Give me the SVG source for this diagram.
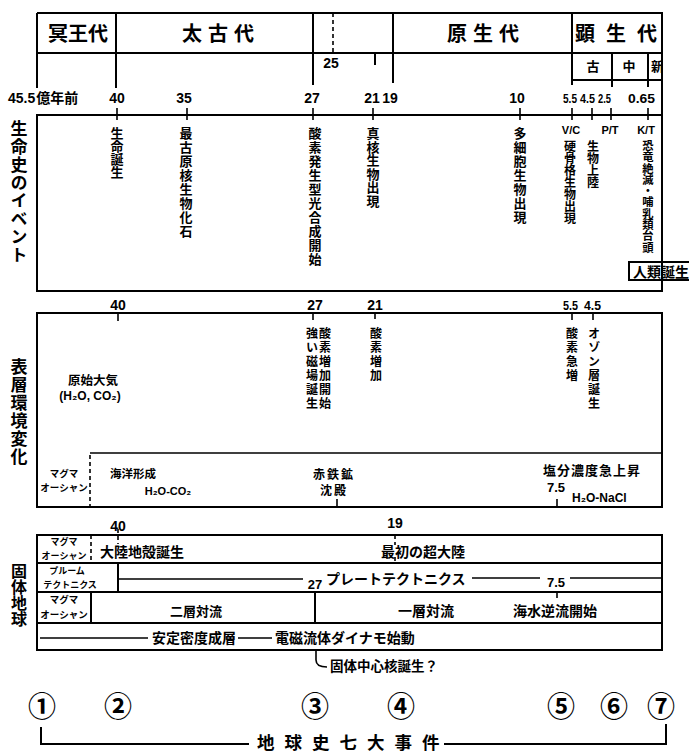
<svg xmlns="http://www.w3.org/2000/svg" width="689" height="753" viewBox="0 0 689 753">
<defs>
<style>
.ln{stroke:#000;stroke-width:2;fill:none}
.tn{stroke:#000;stroke-width:1.6;fill:none}
.ds{stroke:#000;stroke-width:1.6;stroke-dasharray:4 3;fill:none}
.j{font-family:"Noto Sans CJK JP","Noto Sans",sans-serif;font-weight:700;fill:#000}
.n{font-family:"Liberation Sans","DejaVu Sans",Arial,sans-serif;font-weight:700;fill:#000}
.v{writing-mode:vertical-rl}
.m{text-anchor:middle}
.c{font-family:"Noto Sans CJK JP",sans-serif;font-weight:700;fill:#000;font-size:28px;text-anchor:middle}
</style>
<clipPath id="clipNew"><rect x="572" y="53" width="89" height="27"/></clipPath>
</defs>
<rect width="689" height="753" fill="#fff"/>

<g id="era-header">
<path class="ln" d="M37,13 H662 V115 M37,13 V88 M37,53 H662 M116,13 V88 M313,13 V85 M393,13 V83 M572,13 V85 M572,80 H662 M612,53 V87 M648,53 V87 M375,53 V65"/>
<path class="ds" d="M333,13 V52"/>
<text class="j" x="48" y="41" font-size="20">冥王代</text>
<text class="j" x="182" y="41" font-size="20" letter-spacing="6">太古代</text>
<text class="j" x="447" y="41" font-size="20" letter-spacing="6">原生代</text>
<text class="j" x="575" y="41" font-size="20" letter-spacing="11">顕生代</text>
<text class="j m" x="593" y="71" font-size="13">古</text>
<text class="j m" x="629" y="71" font-size="13">中</text>
<text class="j" x="651" y="71" font-size="13" clip-path="url(#clipNew)">新</text>
<text class="n m" x="331" y="68" font-size="14">25</text>
</g>

<g id="time-axis">
<text class="n" x="8" y="103" font-size="14">45.5<tspan font-family="Noto Sans CJK JP, sans-serif" dx="1">億年前</tspan></text>
<text class="n m" x="117" y="103" font-size="14">40</text>
<text class="n m" x="184" y="103" font-size="14">35</text>
<text class="n m" x="312" y="103" font-size="14">27</text>
<text class="n m" x="372" y="103" font-size="14">21</text>
<text class="n m" x="390" y="103" font-size="14">19</text>
<text class="n m" x="517" y="103" font-size="14">10</text>
<text class="n" x="563" y="103" font-size="13" textLength="14" lengthAdjust="spacingAndGlyphs">5.5</text>
<text class="n" x="580" y="103" font-size="13" textLength="15" lengthAdjust="spacingAndGlyphs">4.5</text>
<text class="n" x="598" y="103" font-size="13" textLength="13" lengthAdjust="spacingAndGlyphs">2.5</text>
<text class="n" x="628" y="103" font-size="13" textLength="27" lengthAdjust="spacingAndGlyphs">0.65</text>
</g>

<g id="life-events">
<rect class="ln" x="37" y="115" width="625" height="176"/>
<path class="tn" d="M117,108 V120 M187,108 V120 M313,108 V120 M373,108 V120 M520,108 V120 M572,108 V120 M592,108 V120 M611,108 V120 M648,108 V120"/>
<text class="j v" x="19" y="120" font-size="17" letter-spacing="1">生命史のイベント</text>
<text class="j v" x="117" y="127" font-size="13">生命誕生</text>
<text class="j v" x="186" y="127" font-size="13" letter-spacing="1">最古原核生物化石</text>
<text class="j v" x="315" y="127" font-size="13" letter-spacing="1">酸素発生型光合成開始</text>
<text class="j v" x="373" y="127" font-size="13" letter-spacing="0.5">真核生物出現</text>
<text class="j v" x="520" y="127" font-size="13" letter-spacing="1">多細胞生物出現</text>
<text class="n m" x="571" y="134" font-size="11">V/C</text>
<text class="j v" x="570" y="140" font-size="12">硬骨格生物出現</text>
<text class="j v" x="593" y="140" font-size="12">生物上陸</text>
<text class="n m" x="610" y="134" font-size="11">P/T</text>
<text class="n m" x="646" y="134" font-size="11">K/T</text>
<text class="j v" x="648" y="140" font-size="11.3">恐竜絶滅・哺乳類台頭</text>
<g id="human">
<rect class="ln" x="629" y="262" width="62" height="18" fill="#fff"/>
<text class="j" x="633" y="277" font-size="14">人類誕生</text>
</g>
</g>

<g id="surface-environment">
<text class="n m" x="118" y="310" font-size="14">40</text>
<text class="n m" x="315" y="310" font-size="14">27</text>
<text class="n m" x="375" y="310" font-size="14">21</text>
<text class="n" x="563" y="310" font-size="13" textLength="15" lengthAdjust="spacingAndGlyphs">5.5</text>
<text class="n" x="584" y="310" font-size="13" textLength="17" lengthAdjust="spacingAndGlyphs">4.5</text>
<rect class="ln" x="37" y="313" width="625" height="194"/>
<path class="tn" d="M118,313 V321 M313,313 V320 M375,312 V319 M572,312 V320 M593,312 V320 M90,453 H662 M337,499 V507 M557,499 V507"/>
<path class="ds" d="M90,455 V507"/>
<text class="j v" x="19" y="358" font-size="17" letter-spacing="1">表層環境変化</text>
<text class="j v" x="312" y="327" font-size="12" letter-spacing="2">強い磁場誕生</text>
<text class="j v" x="325" y="327" font-size="12" letter-spacing="2">酸素増加開始</text>
<text class="j v" x="376" y="327" font-size="12" letter-spacing="2">酸素増加</text>
<text class="j v" x="572" y="327" font-size="12" letter-spacing="2">酸素急増</text>
<text class="j v" x="594" y="327" font-size="12" letter-spacing="2">オゾン層誕生</text>
<text class="j m" x="93" y="385" font-size="12.5">原始大気</text>
<text class="n m" x="90" y="400" font-size="12">(H₂O, CO₂)</text>
<text class="j m" x="64" y="477" font-size="9.5">マグマ</text>
<text class="j m" x="64" y="491" font-size="9.5">オーシャン</text>
<text class="j" x="110" y="478" font-size="11.5">海洋形成</text>
<text class="n m" x="168" y="495" font-size="11">H₂O-CO₂</text>
<text class="j m" x="334" y="479" font-size="12" letter-spacing="2">赤鉄鉱</text>
<text class="j m" x="334" y="495" font-size="12" letter-spacing="2">沈殿</text>
<text class="j m" x="592" y="475" font-size="13" letter-spacing="1">塩分濃度急上昇</text>
<text class="n m" x="556" y="492" font-size="13">7.5</text>
<text class="n" x="572" y="502" font-size="12">H₂O-NaCl</text>
</g>

<g id="solid-earth">
<text class="n m" x="118" y="531" font-size="14">40</text>
<text class="n m" x="395" y="528" font-size="14">19</text>
<rect class="ln" x="37" y="535" width="625" height="115"/>
<path class="ln" d="M37,563 H662 M37,592 H662 M37,623 H662 M118,563 V592 M91,592 V623 M315,592 V623"/>
<path class="ds" d="M91,535 V563 M118,529 V544 M395,535 V545 M395,557 V563"/>
<path class="tn" d="M119,579 H303 M472,578 H540 M570,578 H662 M557,592 V598 M40,638 H148 M238,638 H272"/>
<text class="j v" x="19" y="563" font-size="16">固体地球</text>
<text class="j m" x="64" y="545" font-size="9">マグマ</text>
<text class="j m" x="64" y="559" font-size="9">オーシャン</text>
<text class="j" x="100" y="557" font-size="14">大陸地殻誕生</text>
<text class="j" x="381" y="557" font-size="14">最初の超大陸</text>
<text class="j m" x="67" y="574" font-size="9">プルーム</text>
<text class="j m" x="70" y="588" font-size="9">テクトニクス</text>
<text class="n m" x="315" y="589" font-size="13">27</text>
<text class="j" x="326" y="584" font-size="14">プレートテクトニクス</text>
<text class="n m" x="556" y="587" font-size="13">7.5</text>
<text class="j m" x="64" y="603" font-size="9.5">マグマ</text>
<text class="j m" x="64" y="618" font-size="9.5">オーシャン</text>
<text class="j m" x="196" y="616" font-size="13">二層対流</text>
<text class="j" x="398" y="616" font-size="14">一層対流</text>
<text class="j" x="513" y="616" font-size="14">海水逆流開始</text>
<text class="j" x="152" y="643" font-size="14">安定密度成層</text>
<text class="j" x="275" y="643" font-size="14">電磁流体ダイナモ始動</text>
<path class="tn" d="M316,651 V660 Q316,667 327,667"/>
<text class="j" x="330" y="671" font-size="13.5">固体中心核誕生？</text>
</g>

<g id="seven-events">
<text class="c" x="42" y="717">①</text>
<text class="c" x="118" y="717">②</text>
<text class="c" x="315" y="717">③</text>
<text class="c" x="401" y="717">④</text>
<text class="c" x="561" y="717">⑤</text>
<text class="c" x="614" y="717">⑥</text>
<text class="c" x="661" y="717">⑦</text>
<path class="ln" d="M41,727 V744 H249 M444,744 H666 V724"/>
<text class="j" x="257" y="749" font-size="17.5" letter-spacing="10">地球史七大事件</text>
</g>
</svg>
